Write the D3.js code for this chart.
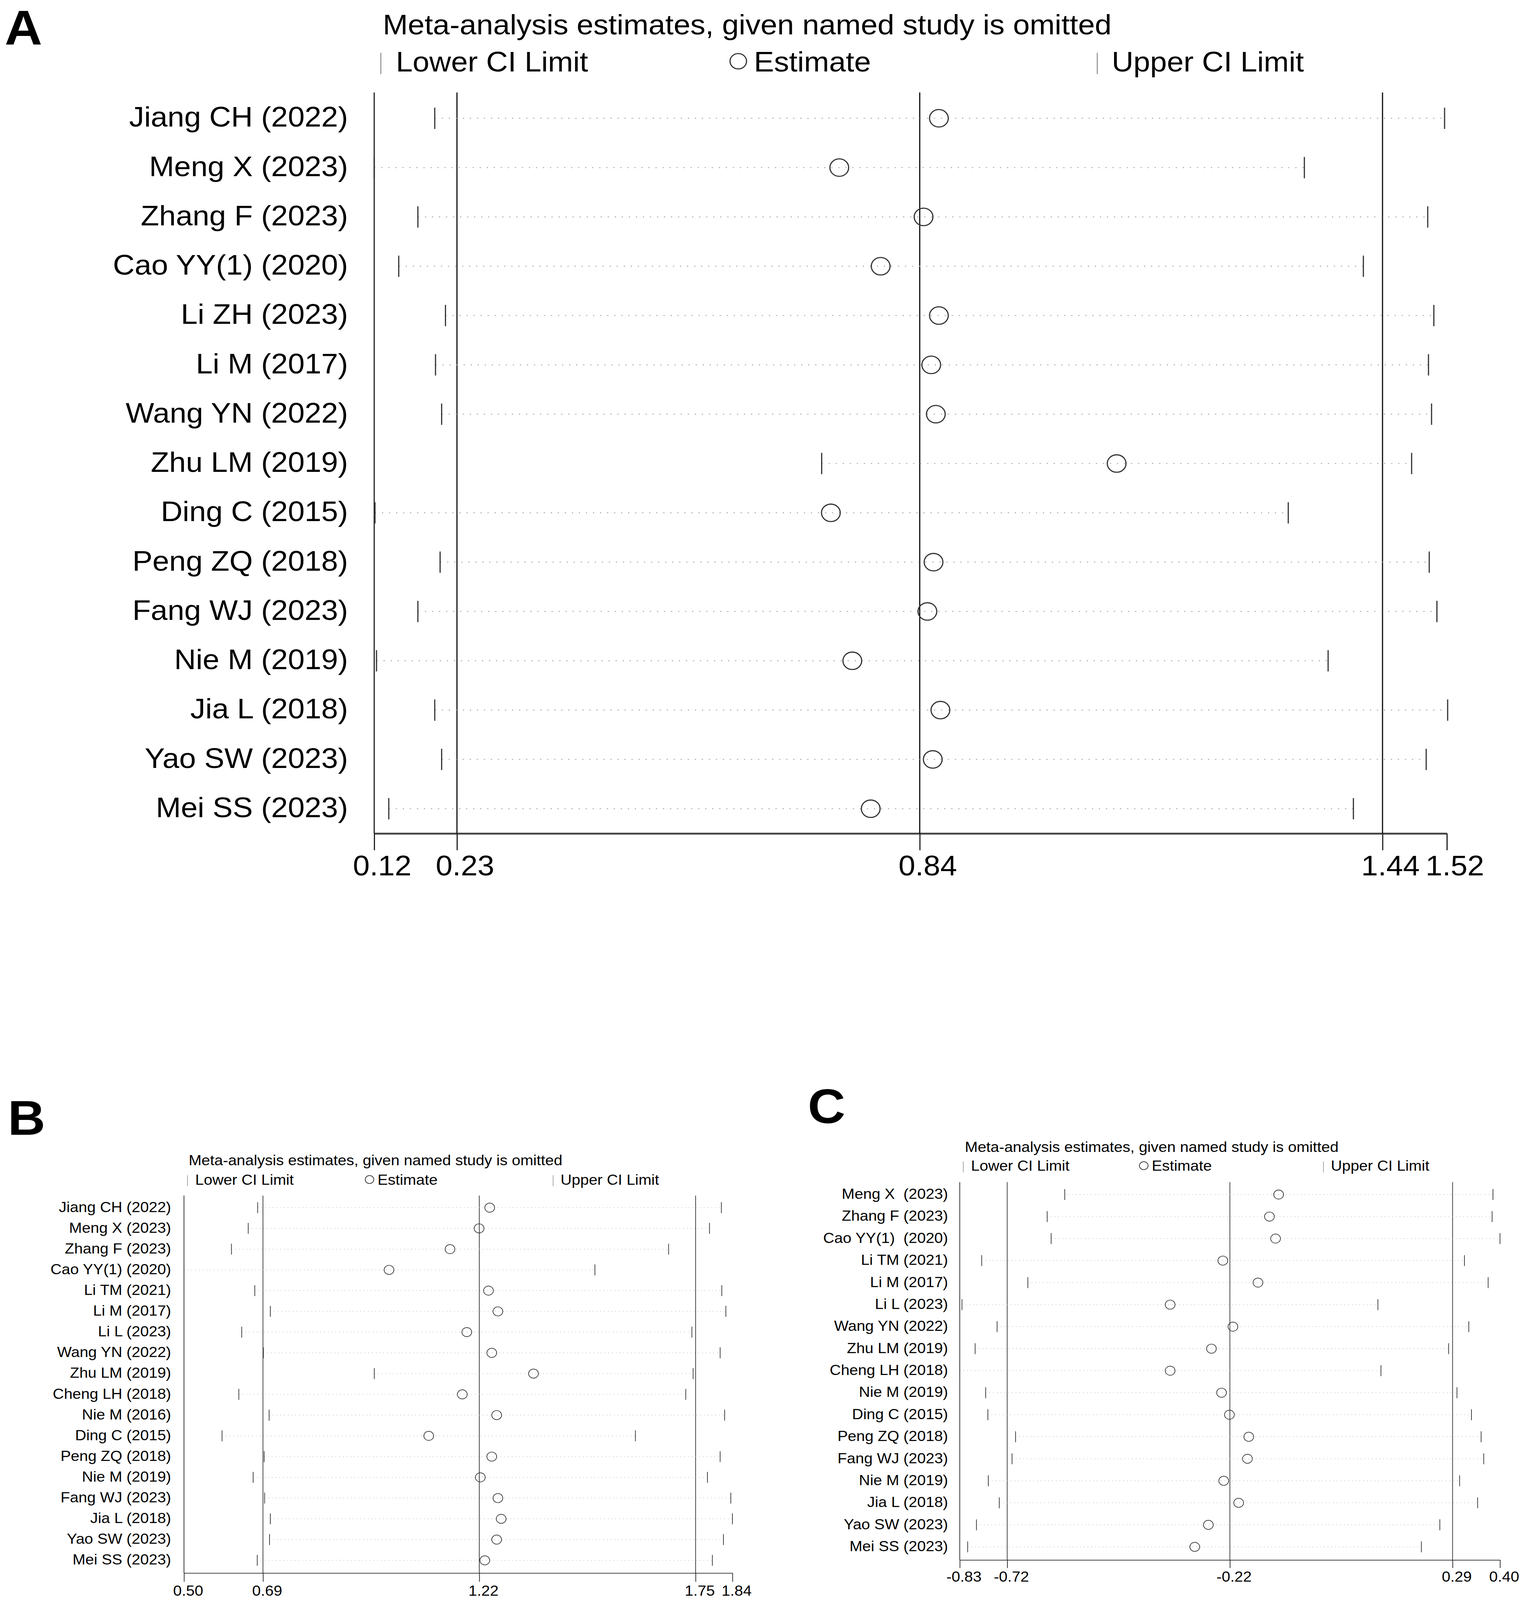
<!DOCTYPE html>
<html>
<head>
<meta charset="utf-8">
<script src="https://cdn.jsdelivr.net/npm/d3@7"></script>
<style>
html, body { margin:0; padding:0; background:#fff; overflow:hidden; }
svg { display:block; }
text { font-family:"Liberation Sans", Arial, sans-serif; fill:#000; white-space:pre; }
</style>
</head>
<body>
<svg id="chart" viewBox="0 0 3904 4396" preserveAspectRatio="none"></svg>
<script>

// ---- panel A data
var studiesA = ["Jiang CH (2022)","Meng X (2023)","Zhang F (2023)","Cao YY(1) (2020)","Li ZH (2023)",
	"Li M (2017)","Wang YN (2022)","Zhu LM (2019)","Ding C (2015)","Peng ZQ (2018)",
	"Fang WJ (2023)","Nie M (2019)","Jia L (2018)","Yao SW (2023)","Mei SS (2023)"];
var lowerA = [0.199,0.120,0.177,0.152,0.213,0.200,0.208,0.704,0.121,0.206,0.177,0.123,0.199,0.208,0.139];
var estA   = [0.857,0.727,0.837,0.781,0.857,0.847,0.853,1.089,0.716,0.850,0.842,0.744,0.859,0.849,0.768];
var upperA = [1.517,1.334,1.495,1.411,1.503,1.496,1.500,1.474,1.313,1.497,1.507,1.365,1.521,1.493,1.398];
var tickValsA   = [0.12,0.228,0.832,1.436,1.52];
var tickLabelsA = ["0.12","0.23","0.84","1.44","1.52"];
var refLinesA   = [0.228,0.832,1.436];

// ---- panel B data
var studiesB = ["Jiang CH (2022)","Meng X (2023)","Zhang F (2023)","Cao YY(1) (2020)","Li TM (2021)",
	"Li M (2017)","Li L (2023)","Wang YN (2022)","Zhu LM (2019)","Cheng LH (2018)",
	"Nie M (2016)","Ding C (2015)","Peng ZQ (2018)","Nie M (2019)","Fang WJ (2023)",
	"Jia L (2018)","Yao SW (2023)","Mei SS (2023)"];
var lowerB = [0.680,0.657,0.616,0.500,0.673,0.711,0.641,0.694,0.965,0.634,0.708,0.593,0.696,0.669,0.697,0.711,0.709,0.679];
var estB   = [1.247,1.221,1.150,1.001,1.244,1.267,1.191,1.252,1.354,1.180,1.264,1.098,1.252,1.224,1.267,1.275,1.264,1.235];
var upperB = [1.813,1.784,1.684,1.504,1.814,1.824,1.741,1.810,1.744,1.726,1.821,1.603,1.810,1.779,1.836,1.840,1.818,1.791];
var tickValsB   = [0.50,0.693,1.2215,1.750,1.84];
var tickLabelsB = ["0.50","0.69","1.22","1.75","1.84"];
var refLinesB   = [0.693,1.2215,1.750];

// ---- panel C data
var studiesC = ["Meng X  (2023)","Zhang F (2023)","Cao YY(1)  (2020)","Li TM (2021)","Li M (2017)",
	"Li L (2023)","Wang YN (2022)","Zhu LM (2019)","Cheng LH (2018)","Nie M (2019)",
	"Ding C (2015)","Peng ZQ (2018)","Fang WJ (2023)","Nie M (2019)","Jia L (2018)",
	"Yao SW (2023)","Mei SS (2023)"];
var lowerC = [-0.591,-0.631,-0.622,-0.780,-0.675,-0.825,-0.745,-0.795,-0.830,-0.771,-0.766,-0.703,-0.711,-0.765,-0.740,-0.792,-0.812];
var estC   = [-0.104,-0.125,-0.111,-0.231,-0.151,-0.351,-0.208,-0.257,-0.351,-0.234,-0.216,-0.172,-0.175,-0.229,-0.195,-0.264,-0.295];
var upperC = [0.384,0.382,0.400,0.319,0.373,0.122,0.329,0.283,0.129,0.302,0.335,0.357,0.363,0.308,0.349,0.263,0.221];
var tickValsC   = [-0.83,-0.722,-0.215,0.292,0.40];
var tickLabelsC = ["-0.83","-0.72","-0.22","0.29","0.40"];
var refLinesC   = [-0.722,-0.215,0.292];

var titleText = "Meta-analysis estimates, given named study is omitted";

// fill whatever viewport the browser really gives
var svg = d3.select("#chart")
	.style("width", window.innerWidth + "px")
	.style("height", window.innerHeight + "px");

function drawPanel(p)
{
	var fs = p.fs;
	var g = svg.append("g");
	var n = p.studies.length;
	var idx = d3.range(n);

	var x = d3.scaleLinear().domain(p.domain).range([p.left, p.right]);
	var y = d3.scalePoint().domain(idx).range([p.firstRow, p.lastRow]);

	// panel letter
	g.append("text").attr("x", p.letterX).attr("y", p.letterY)
		.style("font-size", p.letterFs + "px").style("font-weight", "bold")
		.text(p.letter);

	// title + legend
	g.append("text").attr("x", p.titleX).attr("y", p.titleY)
		.style("font-size", fs + "px").text(titleText);

	var ly = p.legendY;
	[p.legLower, p.legUpper].forEach(function(lx)
	{
		g.append("line").attr("x1", lx).attr("x2", lx)
			.attr("y1", ly - 0.66 * fs).attr("y2", ly + 0.1 * fs)
			.attr("stroke", "#888").attr("stroke-width", p.sw * 0.8);
	});
	g.append("circle").attr("cx", p.legEst).attr("cy", ly - 0.36 * fs)
		.attr("r", p.r * 0.88).attr("fill", "none")
		.attr("stroke", "#333").attr("stroke-width", p.sw);
	g.append("text").attr("x", p.legLower + 0.5 * fs).attr("y", ly).style("font-size", fs + "px").text("Lower CI Limit");
	g.append("text").attr("x", p.legEst + 0.52 * fs).attr("y", ly).style("font-size", fs + "px").text("Estimate");
	g.append("text").attr("x", p.legUpper + 0.48 * fs).attr("y", ly).style("font-size", fs + "px").text("Upper CI Limit");

	// x axis
	var axis = d3.axisBottom(x)
		.tickValues(p.tickVals)
		.tickFormat(function(d, i) { return p.tickLabels[i]; })
		.tickSizeInner(p.tickLen)
		.tickSizeOuter(0)
		.tickPadding(p.tickPad);

	var ax = g.append("g").attr("transform", "translate(0," + p.baseline + ")").call(axis);
	ax.select(".domain").attr("stroke", "#444").attr("stroke-width", p.axisW);
	ax.selectAll(".tick line").attr("stroke", "#222").attr("stroke-width", p.sw);
	ax.selectAll(".tick text")
		.attr("dx", 0.26 * fs)
		.style("font-size", fs + "px")
		.style("font-family", "'Liberation Sans', Arial, sans-serif")
		.attr("fill", "#000");

	// left axis + reference lines
	g.append("line").attr("x1", p.left).attr("x2", p.left)
		.attr("y1", p.top).attr("y2", p.baseline)
		.attr("stroke", "#222").attr("stroke-width", p.sw);

	g.selectAll(".ref").data(p.refLines).enter().append("line")
		.attr("x1", function(d) { return x(d); })
		.attr("x2", function(d) { return x(d); })
		.attr("y1", p.top).attr("y2", p.baseline)
		.attr("stroke", p.refColor).attr("stroke-width", p.sw);

	// study labels
	g.selectAll(".lab").data(idx).enter().append("text")
		.attr("x", p.labelRight)
		.attr("y", function(i) { return y(i) + 0.3 * fs; })
		.attr("text-anchor", "end")
		.style("font-size", fs + "px")
		.text(function(i) { return p.studies[i]; });

	// dotted CI span
	g.selectAll(".span").data(idx).enter().append("line")
		.attr("x1", function(i) { return x(p.lower[i]); })
		.attr("x2", function(i) { return x(p.upper[i]); })
		.attr("y1", function(i) { return y(i); })
		.attr("y2", function(i) { return y(i); })
		.attr("stroke", "#aaa")
		.attr("stroke-width", p.sw * 0.9)
		.attr("stroke-dasharray", p.dash);

	// CI limit marks
	var h = 0.38 * fs;
	[p.lower, p.upper].forEach(function(arr)
	{
		g.selectAll(null).data(idx).enter().append("line")
			.attr("x1", function(i) { return x(arr[i]); })
			.attr("x2", function(i) { return x(arr[i]); })
			.attr("y1", function(i) { return y(i) - h; })
			.attr("y2", function(i) { return y(i) + h; })
			.attr("stroke", "#333").attr("stroke-width", p.sw);
	});

	// estimates
	g.selectAll(".est").data(idx).enter().append("circle")
		.attr("cx", function(i) { return x(p.est[i]); })
		.attr("cy", function(i) { return y(i); })
		.attr("r", p.r)
		.attr("fill", "none")
		.attr("stroke", "#333")
		.attr("stroke-width", p.sw);
}

drawPanel({
	letter:"A", letterX:12, letterY:122, letterFs:133,
	studies:studiesA, lower:lowerA, est:estA, upper:upperA,
	tickVals:tickValsA, tickLabels:tickLabelsA, refLines:refLinesA,
	domain:[0.12,1.52], left:958, right:3704,
	top:254, baseline:2290, firstRow:325, lastRow:2222,
	tickLen:46, tickPad:15, fs:77, labelRight:891,
	titleX:980, titleY:94, legendY:196,
	legLower:975, legEst:1890, legUpper:2809,
	r:24, sw:3, axisW:5, dash:"3,15", refColor:"#111"
});

drawPanel({
	letter:"B", letterX:20, letterY:3118, letterFs:133,
	studies:studiesB, lower:lowerB, est:estB, upper:upperB,
	tickVals:tickValsB, tickLabels:tickLabelsB, refLines:refLinesB,
	domain:[0.50,1.84], left:471, right:1875,
	top:3285, baseline:4322, firstRow:3318, lastRow:4287,
	tickLen:24, tickPad:10, fs:39.5, labelRight:438,
	titleX:483, titleY:3202, legendY:3255,
	legLower:480, legEst:946, legUpper:1416,
	r:12.5, sw:1.8, axisW:2.2, dash:"1.6,8", refColor:"#333"
});

drawPanel({
	letter:"C", letterX:2068, letterY:3086, letterFs:133,
	studies:studiesC, lower:lowerC, est:estC, upper:upperC,
	tickVals:tickValsC, tickLabels:tickLabelsC, refLines:refLinesC,
	domain:[-0.83,0.40], left:2457, right:3840,
	top:3248, baseline:4286, firstRow:3282, lastRow:4250,
	tickLen:22, tickPad:10, fs:39.5, labelRight:2427,
	titleX:2470, titleY:3165, legendY:3217,
	legLower:2466, legEst:2928, legUpper:3388,
	r:12.5, sw:1.8, axisW:2.2, dash:"1.6,8", refColor:"#333"
});

</script>
</body>
</html>
